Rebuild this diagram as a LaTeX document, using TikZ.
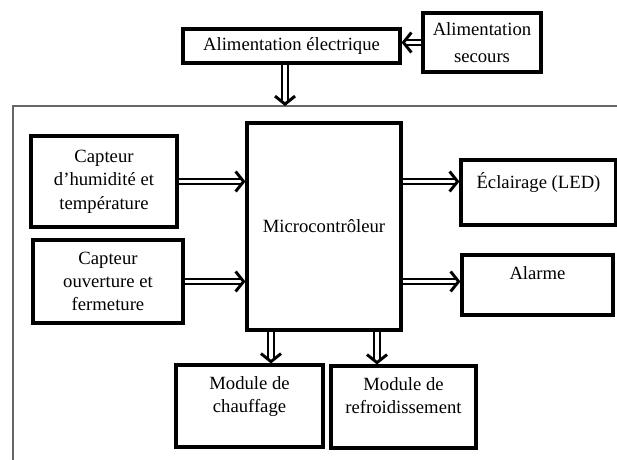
\documentclass[tikz,border=0pt]{standalone}
\usepackage{fontspec}
\setmainfont{Liberation Serif}
\usetikzlibrary{arrows.meta}

\begin{document}
\begin{tikzpicture}
    [
    x=0.75pt, y=-0.75pt,
    bloc/.style={draw,line width=2.3pt,rectangle,inner sep=2pt,align=center,font=\fontsize{14}{17.5}\selectfont},
    fleche/.style={double,line width=1.5pt,double distance=2.6pt,-{Straight Barb[length=6pt,width=15pt,line width=2.2pt]}},
    cadre/.style={draw=black!60,line width=1pt}
    ]
    \useasboundingbox (0,0) rectangle (617,460);
    \draw [cadre] (617,106) -| (13,460);
    \coordinate (cadre) at (285,106);
    \coordinate (x1) at (271,0);
    \coordinate (x2) at (377,0);
    \node (alim) at (291.5,46) [bloc,minimum width=162.75pt,minimum height=25.5pt] {Alimentation électrique};
    \node (secours) at (482,42.5) [bloc,minimum width=88.5pt,minimum height=44.25pt,font=\fontsize{14}{20}\selectfont] {Alimentation\\secours};
    \node (humid) at (104,181.5) [bloc,minimum width=109.5pt,minimum height=68.25pt] {Capteur\\d’humidité et\\température};
    \node (ouvert) at (108,281.5) [bloc,minimum width=112.5pt,minimum height=62.25pt] {Capteur\\ouverture et\\fermeture};
    \node (micro) at (324,226.5) [bloc,minimum width=115.5pt,minimum height=155.25pt] {Microcontrôleur};
    \node (eclairage) at (538.5,192.5) [bloc,minimum width=116.25pt,minimum height=48.75pt] {Éclairage (LED)\\\mbox{}};
    \node (alarme) at (537.5,285) [bloc,minimum width=113.25pt,minimum height=45pt] {Alarme\\\mbox{}};
    \node (chauffage) at (249.5,406) [bloc,minimum width=110.25pt,minimum height=61.5pt] {Module de\\chauffage\\\mbox{}};
    \node (refroid) at (403.5,407) [bloc,minimum width=108.75pt,minimum height=61.5pt] {Module de\\refroidissement\\\mbox{}};
    \draw [fleche] (secours.west) to (secours.west -| alim.east);
    \draw [fleche] (alim.south -| cadre) to (cadre);
    \draw [fleche] (humid.east) to (humid.east -| micro.west);
    \draw [fleche] (ouvert.east) to (ouvert.east -| micro.west);
    \draw [fleche] (micro.east |- humid.east) to (eclairage.west |- humid.east);
    \draw [fleche] (micro.east |- ouvert.east) to (alarme.west |- ouvert.east);
    \draw [fleche] (micro.south -| x1) to (chauffage.north -| x1);
    \draw [fleche] (micro.south -| x2) to (refroid.north -| x2);
  \end{tikzpicture}
\end{document}
